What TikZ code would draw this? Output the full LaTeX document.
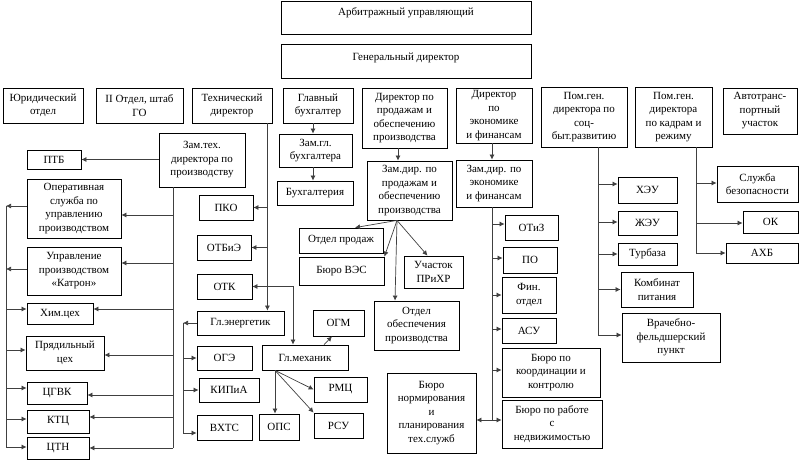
\documentclass[tikz,border=0pt]{standalone}
\usepackage{fontspec}
\setmainfont{Liberation Serif}
\usetikzlibrary{arrows.meta}
\tikzset{
 box/.style={draw=black, line width=0.8pt, align=center, inner sep=0.5pt, font=\fontsize{11}{13.5}\selectfont, fill=white},
 arr/.style={draw=black!75, line width=0.7pt, -{Latex[length=5pt,width=5pt]}},
 ln/.style={draw=black!75, line width=0.7pt},
}
\newcommand\obox[6]{\node[box, minimum width={(#4-#2)*1pt}, minimum height={(#5-#3)*1pt}] (#1) at ({(#2+#4)/2},{(#3+#5)/2}) {#6};}
\begin{document}
\begin{tikzpicture}[x=1pt,y=-1pt]
\useasboundingbox (0,0) rectangle (800,460);
% top
\obox{top1}{281}{1}{531}{34}{\raisebox{5pt}[\height][\depth]{Арбитражный управляющий}}
\obox{top2}{281}{44}{531}{78}{\raisebox{3pt}[\height][\depth]{Генеральный директор}}
% row of directors
\obox{yur}{3}{88}{83}{123}{Юридический\\отдел}
\obox{go}{96}{88}{183}{123}{II Отдел, штаб\\ГО}
\obox{tech}{192}{88}{272}{123}{Технический\\директор}
\obox{buh}{283}{88}{353}{123}{Главный\\бухгалтер}
\obox{sales}{362}{88}{447}{148}{Директор по\\продажам и\\обеспечению\\производства}
\obox{econ}{456}{88}{532}{143}{Директор\\по\\экономике\\и финансам}
\obox{soc}{541}{87}{627}{147}{Пом.ген.\\директора по\\соц-\\быт.развитию}
\obox{kadr}{635}{87}{712}{147}{Пом.ген.\\директора\\по кадрам и\\режиму}
\obox{avto}{723}{88}{797}{134}{Автотранс-\\портный\\участок}
% technical subtree
\obox{zamtech}{159}{133}{245}{187}{Зам.тех.\\директора по\\производству}
\obox{ptb}{27}{150}{81}{169}{ПТБ}
\obox{oper}{27}{179}{121}{238}{Оперативная\\служба по\\управлению\\производством}
\obox{katron}{27}{247}{121}{295}{Управление\\производством\\«Катрон»}
\obox{him}{27}{303}{93}{324}{Хим.цех}
\obox{pryad}{26}{336}{104}{370}{Прядильный\\цех}
\obox{cgvk}{27}{382}{87}{404}{ЦГВК}
\obox{ktc}{27}{410}{89}{433}{КТЦ}
\obox{ctn}{27}{437}{89}{459}{ЦТН}
\obox{pko}{199}{195}{253}{220}{ПКО}
\obox{otbie}{197}{235}{251}{260}{ОТБиЭ}
\obox{otk}{197}{274}{252}{299}{ОТК}
\obox{glen}{197}{311}{284}{335}{Гл.энергетик}
\obox{oge}{197}{346}{252}{370}{ОГЭ}
\obox{kipia}{199}{378}{259}{402}{КИПиА}
\obox{vhts}{197}{415}{252}{440}{ВХТС}
\obox{glmeh}{262}{345}{348}{370}{Гл.механик}
\obox{ogm}{313}{310}{364}{336}{ОГМ}
\obox{rmc}{314}{377}{367}{402}{РМЦ}
\obox{rsu}{314}{413}{363}{438}{РСУ}
\obox{ops}{259}{414}{299}{440}{ОПС}
% accounting
\obox{zamgb}{279}{134}{352}{167}{Зам.гл.\\бухгалтера}
\obox{buhg}{277}{181}{353}{205}{Бухгалтерия}
% sales
\obox{zamsales}{367}{161}{452}{220}{Зам.дир. по\\продажам и\\обеспечению\\производства}
\obox{prodazh}{299}{228}{383}{253}{Отдел продаж}
\obox{ves}{299}{257}{384}{285}{Бюро ВЭС}
\obox{prihr}{404}{256}{463}{288}{Участок\\ПРиХР}
\obox{obesp}{374}{301}{459}{350}{Отдел\\обеспечения\\производства}
% economics
\obox{zamecon}{456}{160}{532}{207}{Зам.дир. по\\экономике\\и финансам}
\obox{otiz}{505}{215}{558}{240}{ОТиЗ}
\obox{po}{503}{247}{557}{273}{ПО}
\obox{fin}{502}{277}{556}{313}{Фин.\\отдел}
\obox{asu}{502}{318}{556}{343}{АСУ}
\obox{koord}{502}{348}{600}{397}{Бюро по\\координации и\\контролю}
\obox{nedv}{502}{400}{602}{448}{Бюро по работе\\с\\недвижимостью}
\obox{norm}{387}{373}{476}{453}{Бюро\\нормирования\\и\\планирования\\тех.служб}
% social
\obox{heu}{618}{177}{677}{203}{ХЭУ}
\obox{zheu}{618}{211}{677}{235}{ЖЭУ}
\obox{turb}{618}{243}{677}{265}{Турбаза}
\obox{komb}{621}{272}{693}{307}{Комбинат\\питания}
\obox{vrach}{622}{313}{720}{362}{Врачебно-\\фельдшерский\\пункт}
% personnel
\obox{sb}{717}{166}{798}{202}{Служба\\безопасности}
\obox{ok}{743}{211}{798}{233}{ОК}
\obox{ahb}{726}{243}{798}{263}{АХБ}

% ---- connectors: technical director
\coordinate (tb) at ([xshift=-5pt]tech.south east);
\draw[arr] (tb) -- (tb |- glen.north);
\draw[arr] (tb |- pko.east) -- (pko.east);
\draw[arr] (tb |- otbie.east) -- (otbie.east);
\draw[arr] (tb |- otk.east) -- (otk.east);
\draw[arr] (tb |- otk.east) -| ([xshift=-12pt]glmeh.north);
% deputy technical director
\coordinate (zb) at (173,187);
\draw[ln] (zb) -- (zb |- ctn.east);
\draw[arr] (zamtech.west |- ptb.east) -- (ptb.east);
\draw[arr] ([yshift=-6.5pt]oper.east -| zb) -- ([yshift=-6.5pt]oper.east);
\draw[arr] ([yshift=8pt]katron.east -| zb) -- ([yshift=8pt]katron.east);
\draw[arr] ([yshift=4.5pt]him.east -| zb) -- ([yshift=4.5pt]him.east);
\draw[arr] ([yshift=-2pt]pryad.east -| zb) -- ([yshift=-2pt]pryad.east);
\draw[arr] ([yshift=-2pt]cgvk.east -| zb) -- ([yshift=-2pt]cgvk.east);
\draw[arr] ([yshift=4.5pt]ktc.east -| zb) -- ([yshift=4.5pt]ktc.east);
\draw[arr] (ctn.east -| zb) -- (ctn.east);
% left bus
\coordinate (lb) at (6,206);
\draw[ln] (lb) -- ([yshift=1pt]ctn.west -| lb);
\draw[arr] ([yshift=2.5pt]oper.west) -- ([yshift=2.5pt]oper.west -| lb);
\draw[arr] ([yshift=2pt]katron.west) -- ([yshift=2pt]katron.west -| lb);
\draw[arr] ([yshift=4.5pt]him.west -| lb) -- ([yshift=4.5pt]him.west);
\draw[arr] ([yshift=3pt]pryad.west -| lb) -- ([yshift=3pt]pryad.west);
\draw[arr] ([yshift=5pt]cgvk.west -| lb) -- ([yshift=5pt]cgvk.west);
\draw[arr] ([yshift=2.5pt]ktc.west -| lb) -- ([yshift=2.5pt]ktc.west);
\draw[arr] ([yshift=1pt]ctn.west -| lb) -- ([yshift=1pt]ctn.west);
% chief power engineer
\coordinate (gb) at (183,323);
\draw[arr] (glen.west) -- (gb);
\draw[ln] (gb) -- ([yshift=-5.5pt]vhts.west -| gb);
\draw[arr] (gb |- oge.west) -- (oge.west);
\draw[arr] (gb |- kipia.west) -- (kipia.west);
\draw[arr] ([yshift=-5.5pt]vhts.west -| gb) -- ([yshift=-5.5pt]vhts.west);
% chief mechanic
\draw[arr] ([xshift=19pt]glmeh.north) -- ([xshift=-6.5pt]ogm.south);
\coordinate (mb) at ([xshift=-30pt]glmeh.south);
\draw[arr] (mb) -- (mb |- ops.north);
\draw[arr] (mb) -- (rmc.west);
\draw[arr] (mb) -- (rsu.north west);
% accounting
\draw[arr] ([xshift=-5pt]buh.south) -- ([xshift=-5pt]buh.south |- zamgb.north);
\draw[arr] ([xshift=-2.5pt]zamgb.south) -- ([xshift=-2.5pt]zamgb.south |- buhg.north);
% sales
\draw[arr] ([xshift=-6.5pt]sales.south) -- ([xshift=-6.5pt]sales.south |- zamsales.north);
\coordinate (sb0) at ([xshift=-12.5pt]zamsales.south);
\draw[arr] (sb0) -- ([xshift=14pt]prodazh.north);
\draw[arr] (sb0) -- (ves.north east);
\draw[arr] (sb0) -- ([xshift=-6pt]prihr.north);
\draw[arr] (sb0) -- ([xshift=-21.5pt]obesp.north);
% economics
\draw[arr] ([xshift=-2pt]econ.south) -- ([xshift=-2pt]econ.south |- zamecon.north);
\coordinate (eb) at ([xshift=-2pt]zamecon.south);
\draw[ln] (eb) -- ([yshift=4pt]nedv.west -| eb);
\draw[arr] ([yshift=3.5pt]otiz.west -| eb) -- ([yshift=3.5pt]otiz.west);
\draw[arr] ([yshift=2pt]po.west -| eb) -- ([yshift=2pt]po.west);
\draw[arr] (fin.west -| eb) -- (fin.west);
\draw[arr] ([yshift=1.5pt]asu.west -| eb) -- ([yshift=1.5pt]asu.west);
\draw[arr] ([yshift=2.5pt]koord.west -| eb) -- ([yshift=2.5pt]koord.west);
\draw[arr] ([yshift=4pt]nedv.west -| eb) -- ([yshift=4pt]nedv.west);
\draw[arr] ([yshift=-7pt]norm.east -| eb) -- ([yshift=-7pt]norm.east);
% social development
\coordinate (scb) at ([xshift=14pt]soc.south);
\draw[ln] (scb) -- ([yshift=2.5pt]vrach.west -| scb);
\draw[arr] ([yshift=6pt]heu.west -| scb) -- ([yshift=6pt]heu.west);
\draw[arr] ([yshift=1pt]zheu.west -| scb) -- ([yshift=1pt]zheu.west);
\draw[arr] (turb.west -| scb) -- (turb.west);
\draw[arr] (komb.west -| scb) -- (komb.west);
\draw[arr] ([yshift=2.5pt]vrach.west -| scb) -- ([yshift=2.5pt]vrach.west);
% personnel
\coordinate (kb) at ([xshift=22.5pt]kadr.south);
\draw[ln] (kb) -- (kb |- ahb.west);
\draw[arr] ([yshift=1pt]sb.west -| kb) -- ([yshift=1pt]sb.west);
\draw[arr] ([yshift=-1pt]ok.west -| kb) -- ([yshift=-1pt]ok.west);
\draw[arr] (ahb.west -| kb) -- (ahb.west);
\end{tikzpicture}
\end{document}
